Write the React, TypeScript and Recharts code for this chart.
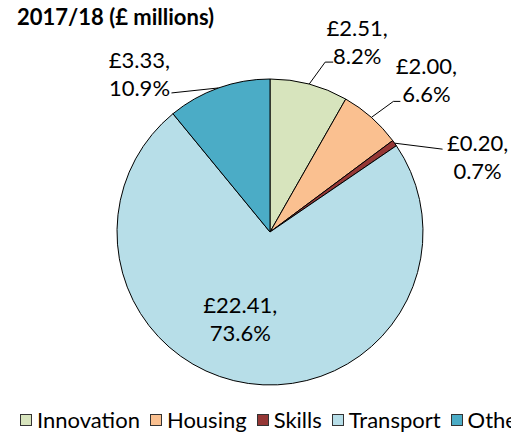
import React from "react";
import { PieChart, Pie, Cell, Legend } from "recharts";

const categories = ["Innovation", "Housing", "Skills", "Transport", "Other"];
const spend = [2.51, 2.0, 0.2, 22.41, 3.33];
const colors = ["#D7E4BD", "#FAC090", "#953735", "#B7DEE8", "#4BACC6"];

const chartData = categories.map((name, i) => ({ name, value: spend[i] }));

// label placement relative to the slice's outer edge point
const labelLayout = [
  { line: [[16, -22], [24, -22]], text: [48, -42] },
  { line: [[22, -16], [29, -16]], text: [55, -37] },
  { line: [[48, 6]], text: [83, 14] },
  { line: [], text: [-8, -64] },
  { line: [[-47, 5]], text: [-79, -14] },
];

const FONT = "Lato, 'Open Sans', sans-serif";
const RADIAN = Math.PI / 180;

const renderLabel = (props: any) => {
  const { cx, cy, midAngle, outerRadius, value, percent, index } = props;
  const ex = cx + outerRadius * Math.cos(-midAngle * RADIAN);
  const ey = cy + outerRadius * Math.sin(-midAngle * RADIAN);
  const lay = labelLayout[index];
  const pts = [[ex, ey], ...lay.line.map(([dx, dy]) => [ex + dx, ey + dy])];
  const tx = ex + lay.text[0];
  const ty = ey + lay.text[1];
  return (
    <g>
      {lay.line.length > 0 && (
        <polyline
          points={pts.map((p) => p.join(",")).join(" ")}
          fill="none"
          stroke="#000"
          strokeWidth={1}
        />
      )}
      <text
        x={tx}
        y={ty}
        textAnchor="middle"
        fontFamily={FONT}
        fontSize={22}
        fill="#000"
      >
        <tspan x={tx} dy={-6}>{`£${value.toFixed(2)},`}</tspan>
        <tspan x={tx} dy={28}>{`${(percent * 100).toFixed(1)}%`}</tspan>
      </text>
    </g>
  );
};

const renderLegend = () => (
  <div
    style={{
      display: "flex",
      whiteSpace: "nowrap",
      overflow: "hidden",
      fontFamily: FONT,
      fontSize: 22,
      color: "#000",
      alignItems: "center",
    }}
  >
    {categories.map((name, i) => (
      <span key={name} style={{ display: "inline-flex", alignItems: "center", marginRight: 10, flexShrink: 0 }}>
        <span
          style={{
            width: 10,
            height: 10,
            background: colors[i],
            border: "1px solid #333",
            marginRight: 5,
            display: "inline-block",
          }}
        />
        {name}
      </span>
    ))}
  </div>
);

export default function App() {
  return (
    <div style={{ position: "absolute", left: 0, top: 0, width: 511, height: 432, overflow: "hidden", background: "#fff" }}>
      <div
        style={{
          position: "absolute",
          left: 17,
          top: 3,
          fontFamily: FONT,
          fontWeight: "bold",
          fontSize: 22,
          color: "#000",
          zIndex: 1,
        }}
      >
        2017/18 (£ millions)
      </div>
      <PieChart width={511} height={432}>
        <Pie
          data={chartData}
          dataKey="value"
          nameKey="name"
          cx={265}
          cy={227}
          outerRadius={153}
          startAngle={90}
          endAngle={-270}
          stroke="#000"
          strokeWidth={1}
          label={renderLabel}
          labelLine={false}
          isAnimationActive={false}
        >
          {chartData.map((d, i) => (
            <Cell key={d.name} fill={colors[i]} />
          ))}
        </Pie>
        <Legend
          content={renderLegend}
          wrapperStyle={{ position: "absolute", left: 20, top: 406, width: 491 }}
        />
      </PieChart>
    </div>
  );
}
